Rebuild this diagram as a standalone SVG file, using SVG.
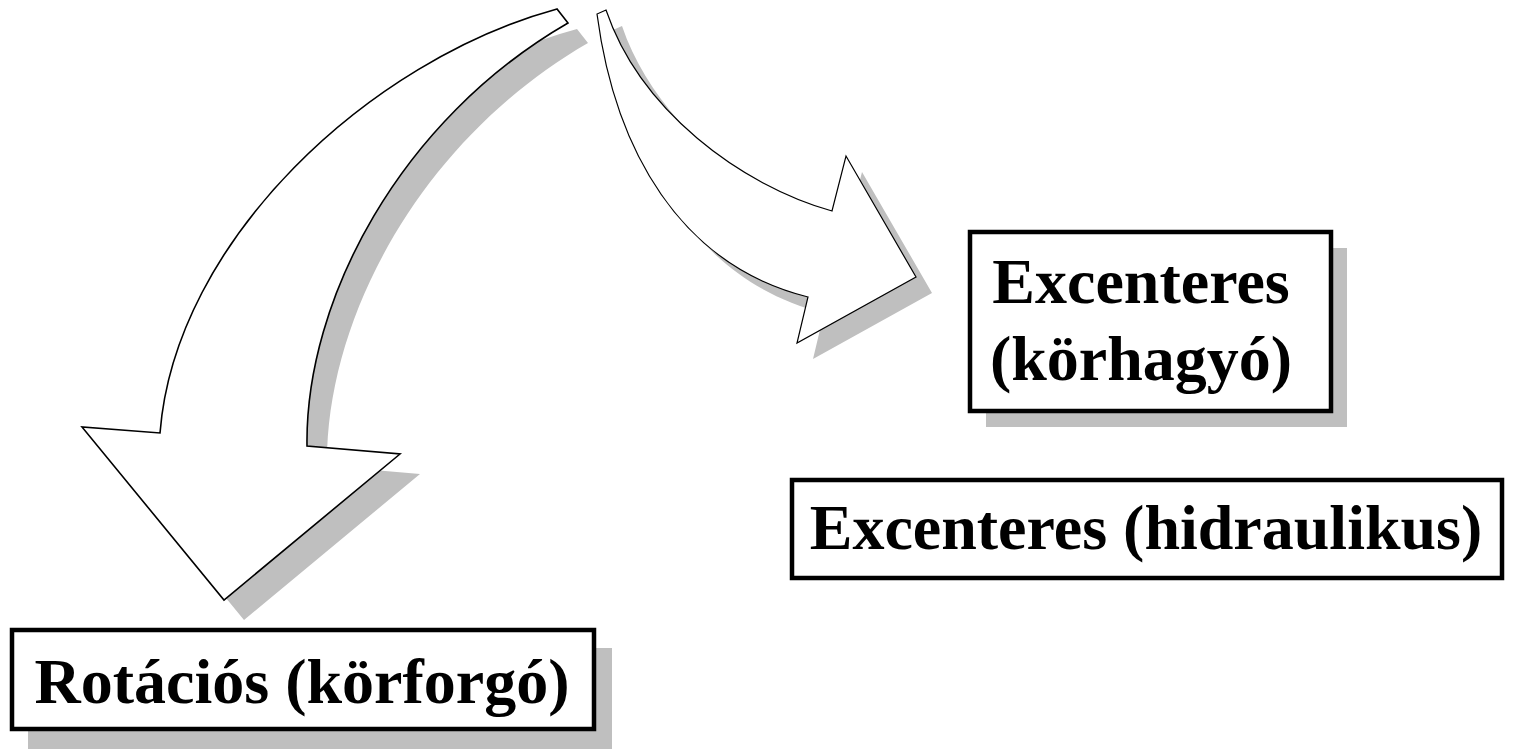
<svg xmlns="http://www.w3.org/2000/svg" width="1514" height="750" viewBox="0 0 1514 750">
<style>
.shadow{fill:#bfbfbf;stroke:none}
.arrow{fill:#ffffff;stroke:#000000;stroke-linejoin:miter}
.box{fill:#ffffff;stroke:#000000;stroke-width:4.5}
.lbl{font-family:"Liberation Serif","Times New Roman",serif;font-weight:bold;font-size:64px;fill:#000000;text-anchor:middle}
</style>
<defs>
<path id="leftArrow" d="M557,9 C370,60 175,240 160,433 L82,427 L224,600 L400,454 L307,446 C305,300 400,120 568,23 Z"/>
<path id="rightArrow" d="M597,14 C615,150 680,265 808,297 L797,343 L916,277 L846,156 L832,211 C740,185 640,110 606,10 Z"/>
<clipPath id="clipTop"><rect x="0" y="0" width="1514" height="620"/></clipPath>
</defs>
<rect width="1514" height="750" fill="#ffffff"/>
<g id="connectors">
<use href="#leftArrow" class="shadow" transform="translate(20,20)" clip-path="url(#clipTop)"/>
<use href="#rightArrow" class="shadow" transform="translate(16,16)"/>
<use href="#leftArrow" class="arrow" stroke-width="1.6"/>
<use href="#rightArrow" class="arrow" stroke-width="1.2"/>
</g>
<g id="node-excenteres-korhagyo">
<rect x="986" y="248" width="361" height="179" class="shadow"/>
<rect x="970" y="232" width="361" height="179" class="box"/>
<text x="1141" y="303" class="lbl">Excenteres</text>
<text x="1141" y="380" class="lbl">(körhagyó)</text>
</g>
<g id="node-excenteres-hidraulikus">
<rect x="792" y="480" width="710" height="98" class="box"/>
<text x="1146" y="549" class="lbl">Excenteres (hidraulikus)</text>
</g>
<g id="node-rotacios">
<rect x="28" y="648" width="584" height="101" class="shadow"/>
<rect x="12" y="630" width="582" height="99" class="box"/>
<text x="302" y="703" class="lbl">Rotációs (körforgó)</text>
</g>
</svg>
